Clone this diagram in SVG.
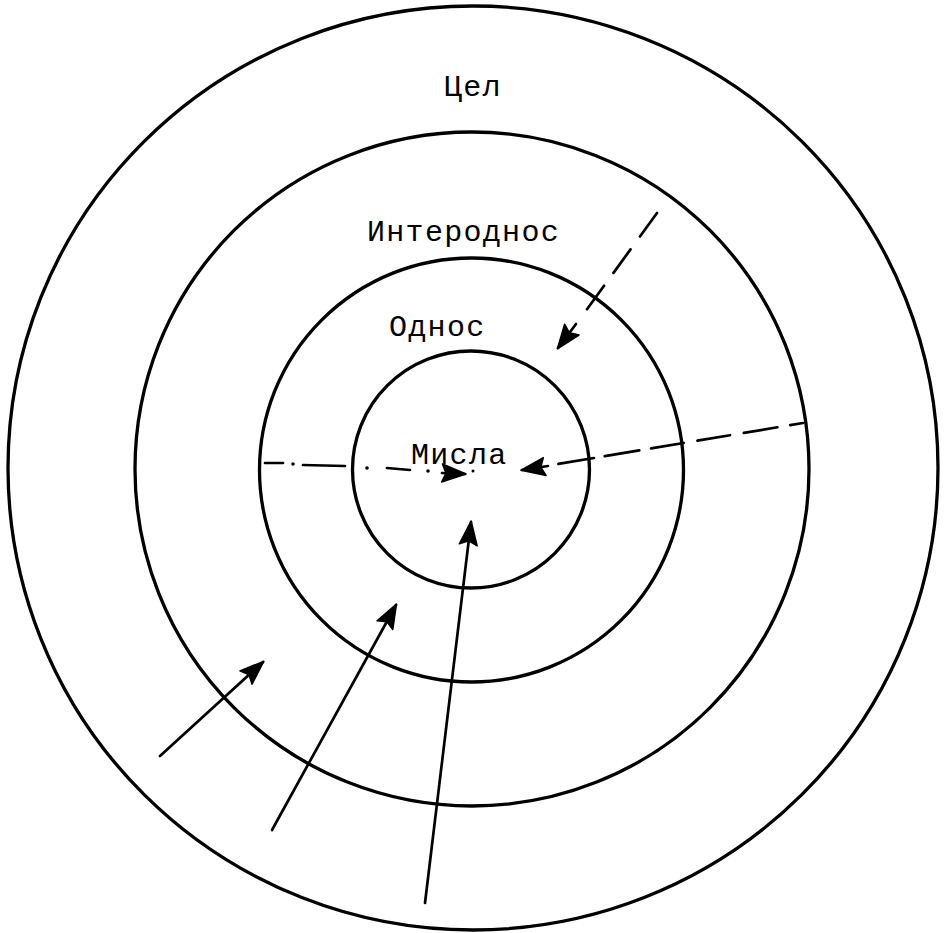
<svg xmlns="http://www.w3.org/2000/svg" width="949" height="933" viewBox="0 0 949 933">
<style>
.ring{fill:none;stroke:#000;stroke-width:3.3}
.lbl{font-family:"Liberation Mono","DejaVu Sans Mono",monospace;font-size:30px;letter-spacing:1.3px;fill:#000}
.con{fill:none;stroke:#000;stroke-width:2.7;stroke-linecap:round}
.head{fill:#000;stroke:#000;stroke-width:1.5;stroke-linejoin:round}
</style>
<defs>
<marker id="ah" viewBox="-26 -11 28 22" refX="0" refY="0" markerWidth="28" markerHeight="22" markerUnits="userSpaceOnUse" orient="auto">
<path class="head" d="M1,0 L-23,-9 L-19,0 L-23,9 Z"/>
</marker>
</defs>
<rect width="949" height="933" fill="#fff"/>
<g id="cel">
<ellipse class="ring" cx="473" cy="468" rx="465" ry="462"/>
<text class="lbl" x="444" y="96">Цел</text>
</g>
<g id="interodnos">
<circle class="ring" cx="472" cy="469" r="337"/>
<text class="lbl" x="367" y="241">Интероднос</text>
</g>
<g id="odnos">
<circle class="ring" cx="471.5" cy="470" r="212"/>
<text class="lbl" x="389" y="336">Однос</text>
</g>
<g id="misla">
<circle class="ring" cx="471" cy="469.5" r="118.5"/>
<text class="lbl" x="411" y="464">Мисла</text>
</g>
<g id="connectors">
<path class="con" d="M657,213 L585,312" stroke-dasharray="29 16" stroke-linecap="butt"/>
<path class="con" d="M576,324 L558,348" marker-end="url(#ah)"/>
<path class="con" d="M803,423 L558,464" stroke-dasharray="13 13 34 14 33 14 33 12 35 11 36" stroke-linecap="butt"/>
<path class="con" d="M548,466 L522,470" marker-end="url(#ah)"/>
<path class="con" d="M265,463 L283,463 M303,465 L345,466 M387,468 L410,470"/>
<circle cx="293" cy="464" r="1.8" fill="#000"/>
<circle cx="367" cy="468" r="1.8" fill="#000"/>
<circle cx="428" cy="471" r="1.8" fill="#000"/>
<circle cx="473" cy="471" r="1.5" fill="#000"/>
<path class="con" d="M442,473 L465,474" marker-end="url(#ah)"/>
<path class="con" d="M160,756 L263,662" marker-end="url(#ah)"/>
<path class="con" d="M272,830 L396,605" marker-end="url(#ah)"/>
<path class="con" d="M425,903 L471,522" marker-end="url(#ah)"/>
</g>
</svg>
